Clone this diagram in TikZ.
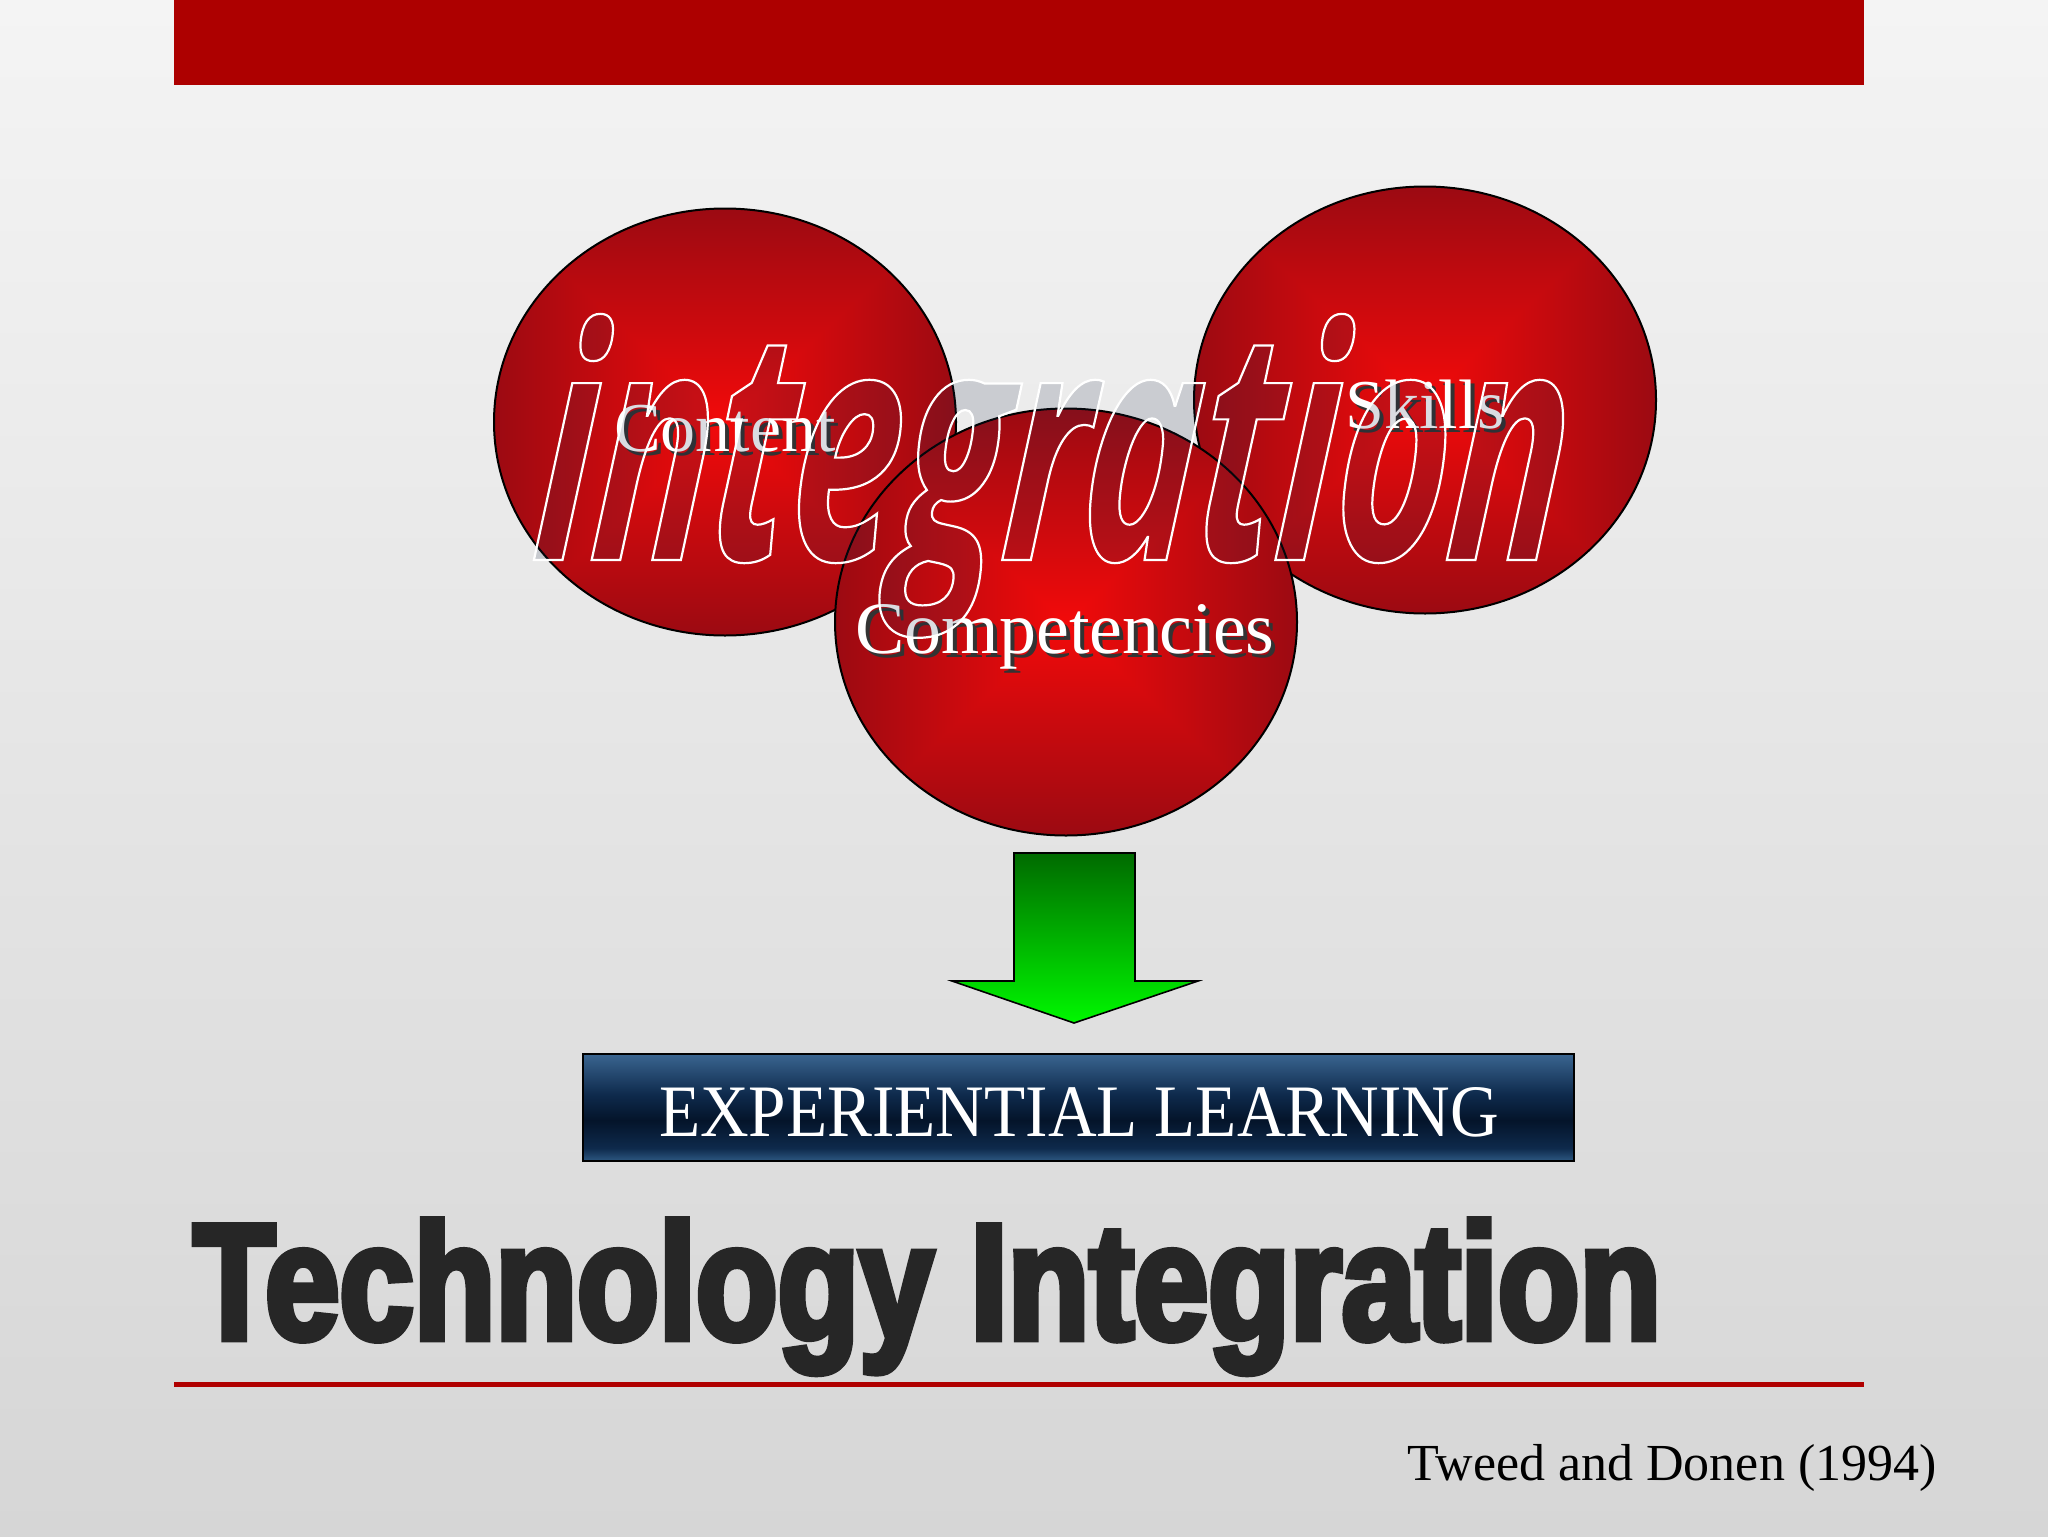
\documentclass[tikz,border=0pt]{standalone}
\usepackage{fontspec}
\setmainfont{Liberation Serif}
\newfontfamily\integfont[FakeStretch=0.60,FakeSlant=0.09]{Open Sans Bold Italic}
\newfontfamily\impfont[FakeStretch=0.81,FakeBold=4]{Liberation Sans Bold}
\usetikzlibrary{shapes.geometric,shadings}
\definecolor{barred}{HTML}{AD0000}
\definecolor{linered}{HTML}{B00000}
\definecolor{bgtop}{HTML}{F4F4F4}
\definecolor{bgbot}{HTML}{D6D6D6}
\definecolor{titlegray}{HTML}{262626}
\definecolor{boxtop}{HTML}{3A6590}
\definecolor{boxdark}{HTML}{04142A}
\definecolor{boxmid}{HTML}{0E2A4C}
\definecolor{boxbot}{HTML}{2D5882}
\definecolor{arrowtop}{HTML}{006A00}
\definecolor{arrowbot}{HTML}{00F800}
\definecolor{wafill}{HTML}{1A2A4A}
\pgfdeclarefunctionalshading{redsq}{\pgfpoint{-50bp}{-50bp}}{\pgfpoint{50bp}{50bp}}{}{abs exch abs 2 copy sub abs add add 2 div 25 div dup 1 sub abs neg add 1 add 2 div dup dup -0.34 mul 0.95 add 3 1 roll 0.00 mul 0.04 add exch 0.03 mul 0.04 add}
\pgfdeclareverticalshading{boxshade}{100bp}{color(0bp)=(boxbot); color(25bp)=(boxbot); color(31bp)=(boxmid); color(44bp)=(boxdark); color(56bp)=(boxmid); color(75bp)=(boxtop); color(100bp)=(boxtop)}
\tikzset{
  ball/.style={ellipse, draw=black, line width=1pt, shading=redsq, minimum width=231pt, minimum height=213.5pt, inner sep=0pt},
  lbl/.style={inner sep=0pt, anchor=base, text=white, font=\fontsize{35}{40}\selectfont},
  lblsh/.style={lbl, text=black!80},
  wordart/.style={inner sep=0pt, anchor=base west, font=\integfont\fontsize{162}{170}\selectfont},
}
\begin{document}
\begin{tikzpicture}[x=0.5pt,y=-0.5pt]
\useasboundingbox (0,0) rectangle (2048,1536);
\shade[top color=bgtop, bottom color=bgbot] (0,0) rectangle (2048,1536);
% top bar
\fill[barred] (174,0) rectangle (1864,85);
% circles
\node[ball] (content) at (725,422) {};
\node[ball] (skills) at (1425,400) {};
\node[ball] (comp) at (1066,622) {};
% labels
\node[lblsh] (contentsh) at (729,455) {Content};
\node[lbl] (contentlbl) at (725,451) {Content};
\node[lblsh] (skillssh) at (1429,432) {Skills};
\node[lbl] (skillslbl) at (1425,428) {Skills};
\node[lblsh, font=\fontsize{37}{40}\selectfont] (compsh) at (1069,657) {Competencies};
\node[lbl, font=\fontsize{37}{40}\selectfont] (complbl) at (1065,653) {Competencies};
% wordart
\node[wordart, text=wafill, text opacity=0.16] (integfill) at (530,560) {integration};
\node[wordart, text=white] (integ) at (530,560) {\special{pdf:literal direct 1 Tr 1.1 w}integration\special{pdf:literal direct 0 Tr}};
% arrow
\shade[top color=arrowtop, bottom color=arrowbot, draw=black, line width=0.8pt]
  (1014,853) -- (1135,853) -- (1135,981) -- (1198,981) -- (1074,1023) -- (952,981) -- (1014,981) -- cycle;
\coordinate (arrowtip) at (1074,1023);
% experiential learning box
\node[draw=black, line width=1pt, minimum width=495.5pt, minimum height=53.5pt, inner sep=0pt,
  shading=boxshade] (exp) at (1078.5,1107.5) {};
\node[inner sep=0pt, anchor=base, text=white, font=\fontsize{37}{40}\selectfont] (explbl) at (1079,1136) {\scalebox{0.91}[1]{EXPERIENTIAL LEARNING}};
% title
\node[anchor=base west, inner sep=0pt, text=titlegray, font=\impfont\fontsize{82.5}{90}\selectfont] (title) at (193,1339) {Technology Integration};
% red rule
\coordinate (ruleL) at (174,1384);
\coordinate (ruleR) at (1864,1384);
\draw[linered, line width=2.5pt] (ruleL) -- (ruleR);
% citation
\node[anchor=base east, inner sep=0pt, font=\fontsize{26}{30}\selectfont] (cite) at (1937,1480) {Tweed and Donen (1994)};
\end{tikzpicture}
\end{document}
